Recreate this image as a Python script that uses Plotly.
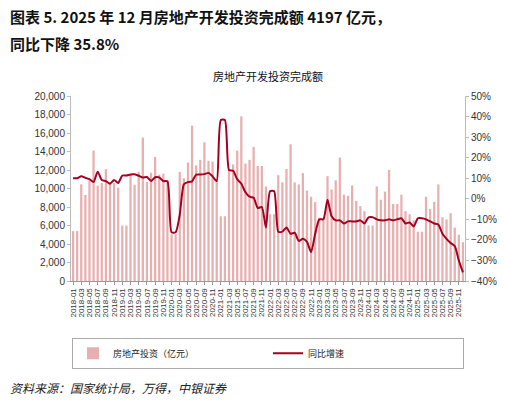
import plotly.graph_objects as go

months = [f"{y}-{m:02d}" for y in range(2018, 2026) for m in range(1, 13)]
invest = [5400,5400,10450,9300,10800,14100,10300,10600,12100,10700,10600,10100,
          6000,6000,11500,10400,11800,15500,10700,11700,13400,11500,11600,10800,
          5050,5050,11800,11100,12800,16800,12500,13100,15000,13000,12900,11000,
          7000,7000,12000,12600,14100,17800,12700,13100,14500,12440,12440,10220,
          7220,7220,11440,10660,12110,14780,10660,10440,11660,9780,9110,8550,
          6830,6830,11330,9890,10890,13330,9330,9220,10330,8660,8100,7550,
          6000,6000,10220,8780,9660,12000,8330,8330,9330,7550,7220,6550,
          5330,5330,9110,7780,8550,10440,6890,6660,7330,5780,5000,4197]
yoy = [10.0,10.0,10.9,10.2,9.5,8.2,13.2,9.1,8.6,7.3,9.1,7.7,
       11.3,11.3,11.8,11.9,11.2,10.3,10.6,8.6,10.5,10.4,8.6,8.5,
       -16.3,-16.3,-7.7,7.0,8.1,8.5,11.7,11.8,12.0,12.6,10.9,8.6,
       38.3,38.3,14.0,13.6,9.5,7.3,3.2,1.0,0.5,-4.5,-4.0,-14.0,
       3.7,3.7,-16.0,-16.0,-14.0,-17.0,-16.5,-20.5,-19.5,-21.0,-26.0,-17.0,
       -10.0,-10.0,-0.5,-8.5,-10.5,-10.5,-12.0,-11.0,-11.0,-11.0,-10.5,-12.0,
       -9.0,-9.0,-10.0,-10.5,-10.5,-10.0,-10.5,-10.0,-9.5,-12.0,-11.5,-13.5,
       -9.5,-9.5,-10.0,-11.0,-12.0,-12.5,-17.0,-19.5,-21.5,-23.0,-30.0,-35.8]
tick_labels = months[::2]

fig = go.Figure()
fig.add_bar(x=months, y=invest, name="房地产投资（亿元）", marker_color="#E8AFAF",
            marker_line_width=0, yaxis="y")
fig.add_scatter(x=months, y=yoy, name="同比增速", mode="lines",
                line=dict(color="#A50021", width=2, shape="spline", smoothing=0.6), yaxis="y2")

tf = dict(family="Liberation Sans, Arial", size=10, color="#333")
fig.update_layout(
    width=505, height=401, margin=dict(l=63, r=48, t=88, b=128),
    paper_bgcolor="white", plot_bgcolor="white", bargap=0.45,
    font=dict(family="Noto Sans CJK SC", size=10, color="#222"),
    xaxis=dict(type="category", tickvals=tick_labels, ticktext=tick_labels, tickangle=-90,
               tickfont=dict(family="Liberation Sans", size=8, color="#333"),
               showline=True, linecolor="#999", ticks="outside", ticklen=3, tickcolor="#999",
               showgrid=False),
    yaxis=dict(range=[0, 20000], dtick=2000, tickformat=",", tickfont=tf, showgrid=False,
               showline=True, linecolor="#bbb", ticks="outside", ticklen=3, tickcolor="#bbb"),
    yaxis2=dict(overlaying="y", side="right", range=[-40, 50], dtick=10, ticksuffix="%",
                tickfont=tf, showgrid=False, showline=True, linecolor="#bbb",
                ticks="outside", ticklen=3, tickcolor="#bbb", zeroline=False),
    showlegend=True,
    legend=dict(orientation="h", x=0.5, xanchor="center", y=-0.39, yanchor="middle",
                bordercolor="#aaa", borderwidth=1, font=dict(size=9),
                itemwidth=30, entrywidth=150),
    annotations=[
        dict(text="<b>图表 5. 2025 年 12 月房地产开发投资完成额 4197 亿元，</b>", xref="paper", yref="paper",
             x=-0.16, y=1.432, xanchor="left", yanchor="middle", showarrow=False,
             font=dict(family="Noto Sans CJK SC", size=15, color="#111")),
        dict(text="<b>同比下降 35.8%</b>", xref="paper", yref="paper",
             x=-0.16, y=1.286, xanchor="left", yanchor="middle", showarrow=False,
             font=dict(family="Noto Sans CJK SC", size=15, color="#111")),
        dict(text="房地产开发投资完成额", xref="paper", yref="paper", x=0.5, y=1.108,
             xanchor="center", yanchor="middle", showarrow=False,
             font=dict(family="Noto Sans CJK SC", size=11, color="#111")),
        dict(text="<i>资料来源：国家统计局，万得，中银证券</i>", xref="paper", yref="paper",
             x=-0.16, y=-0.573, xanchor="left", yanchor="middle", showarrow=False,
             font=dict(family="Noto Sans CJK SC", size=12, color="#222")),
    ],
)
fig.write_html("out.html")
